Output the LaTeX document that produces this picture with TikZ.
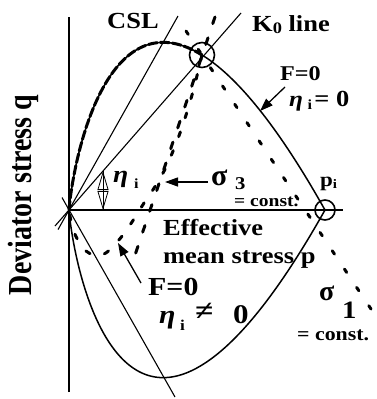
\documentclass[tikz,border=0pt]{standalone}
\usepackage{fontspec}
\setmainfont{Liberation Serif}
\usetikzlibrary{arrows.meta}
\newcommand{\fs}[1]{\fontsize{#1}{#1}\selectfont}
\newcommand{\sx}[1]{\scalebox{1.15}[1]{#1}}
\begin{document}
\begin{tikzpicture}[x=1pt,y=-1pt,line join=round]
\useasboundingbox (0,0) rectangle (376,399);
\tikzset{
  axisline/.style={line width=1.2pt},
  refline/.style={line width=1.1pt},
  curve/.style={line width=1.5pt},
  lab/.style={inner sep=0pt,anchor=base west,font=\bfseries},
  farrow/.style={line width=1.3pt,-{Triangle[length=13pt,width=9pt]}},
  densedash/.style={line width=3pt,line cap=round,dash pattern=on 9pt off 3pt},
  sparsedash/.style={line width=3pt,line cap=round,dash pattern=on 5pt off 15pt},
  sigthree/.style={line width=3pt,line cap=round,dash pattern=on 7pt off 15pt},
  sigone/.style={line width=3pt,line cap=round,dash pattern=on 4pt off 18pt},
  mark circle/.style={circle,draw,line width=1.6pt,inner sep=0pt},
}
% axes
\coordinate (O) at (69,210);
\coordinate (ytop) at (69,17);
\coordinate (ybot) at (69,392);
\coordinate (xend) at (343,210);
\draw[axisline] (ybot) -- (ytop);
\draw[axisline] (O) -- (xend);
% reference lines
\coordinate (cslA) at (58,229.6);
\coordinate (cslB) at (178,16);
\coordinate (mcslA) at (62,197.5);
\coordinate (mcslB) at (175,397);
\coordinate (kA) at (55,226);
\coordinate (kB) at (241,13);
\draw[refline] (cslA) -- (cslB);
\draw[refline] (mcslA) -- (mcslB);
\draw[refline] (kA) -- (kB);
% yield curves (eta_i = 0)
\draw[curve] (O) -- plot[domain=0.1:256,samples=220,smooth] ({69+\x},{210-1.78*\x*ln(256/\x)});
\draw[curve] (O) -- plot[domain=0.1:256,samples=220,smooth] ({69+\x},{210+1.78*\x*ln(256/\x)});
% eta_i != 0 curve
\draw[densedash] (O) -- plot[domain=0.1:133,samples=120,smooth] ({69+\x},{210-1.78*\x*ln(256/\x)});
\draw[sparsedash] plot[smooth,tension=0.6] coordinates {(202,55) (192,95) (180,133) (167,165) (156,185) (144,203) (132,222) (118,241) (102,255) (86,251) (74,232) (69,210)};
% stress paths
\coordinate (s3A) at (215,17);
\coordinate (s3B) at (134,258);
\coordinate (s1A) at (186,31);
\coordinate (s1B) at (375,315);
\draw[sigthree] (s3A) -- (s3B);
\draw[sigone] (s1A) -- (s1B);
% circles
\node[mark circle,minimum size=25pt] (K0pt) at (202,55) {};
\node[mark circle,minimum size=20pt] (pipt) at (325,210) {};
% eta_i angle marker
\coordinate (etaT) at (103,171);
\coordinate (etaB) at (103,210);
\draw[line width=0.8pt] (etaT) -- (etaB);
\draw[line width=0.8pt,{Triangle[open,length=19pt,width=11pt]}-{Triangle[open,length=19pt,width=11pt]}] (etaT) -- (etaB);
% arrows
\coordinate (aF1s) at (285,87);
\coordinate (aF1e) at (260,111);
\draw[farrow] (aF1s) -- (aF1e);
\coordinate (aS3s) at (208,182);
\coordinate (aS3e) at (165,182);
\draw[farrow] (aS3s) -- (aS3e);
\coordinate (aF2s) at (141,283);
\coordinate (aF2e) at (118,243);
\draw[farrow] (aF2s) -- (aF2e);
% labels
\node[lab] (csl) at (107,28) {\sx{\fs{23}CSL}};
\node[lab] (k0) at (252,31) {\sx{\fs{23}K\raisebox{-2pt}{\fs{16}0} line}};
\node[lab] (f1) at (280,80) {\sx{\fs{21}F=0}};
\node[lab] (eta0) at (289,106) {\sx{\fs{22}\itshape η\hspace{4pt}\raisebox{-3pt}{\fs{14}\upshape i}\hspace{2pt}\upshape\fs{23}= 0}};
\node[lab] (s3) at (211,185) {\fs{30}σ};
\node[lab] (s3i) at (235,189) {\sx{\fs{18}3}};
\node[lab] (c3) at (234,206) {\sx{\fs{17}= const.}};
\node[lab] (pi) at (320,186) {\sx{\fs{20}p\raisebox{-2pt}{\fs{13}i}}};
\node[lab] (etai) at (113,182) {\sx{\fs{24}\itshape η}};
\node[lab] (etaii) at (134,188) {\sx{\fs{14}i}};
\node[lab] (eff) at (163,235) {\sx{\fs{23}Effective}};
\node[lab] (msp) at (163,263) {\sx{\fs{23}mean stress p}};
\node[lab] (f2) at (148,295) {\sx{\fs{26}F=0}};
\node[lab] (etane) at (159,323) {\sx{\fs{26}\itshape η}};
\node[lab] (etanei) at (180,330) {\sx{\fs{15}i}};
\node[lab] (ne) at (195,320) {\sx{\fs{29}≠}};
\node[lab] (zero) at (233,323) {\sx{\fs{27}0}};
\node[lab] (s1) at (319,300) {\fs{28}σ};
\node[lab] (s1i) at (342,318) {\sx{\fs{25}1}};
\node[lab] (c1) at (297,340) {\sx{\fs{19}= const.}};
\node[inner sep=0pt,rotate=90,font=\bfseries] (ylab) at (23,195) {\scalebox{1}[1.2]{\fs{28}Deviator stress q}};
\end{tikzpicture}
\end{document}
